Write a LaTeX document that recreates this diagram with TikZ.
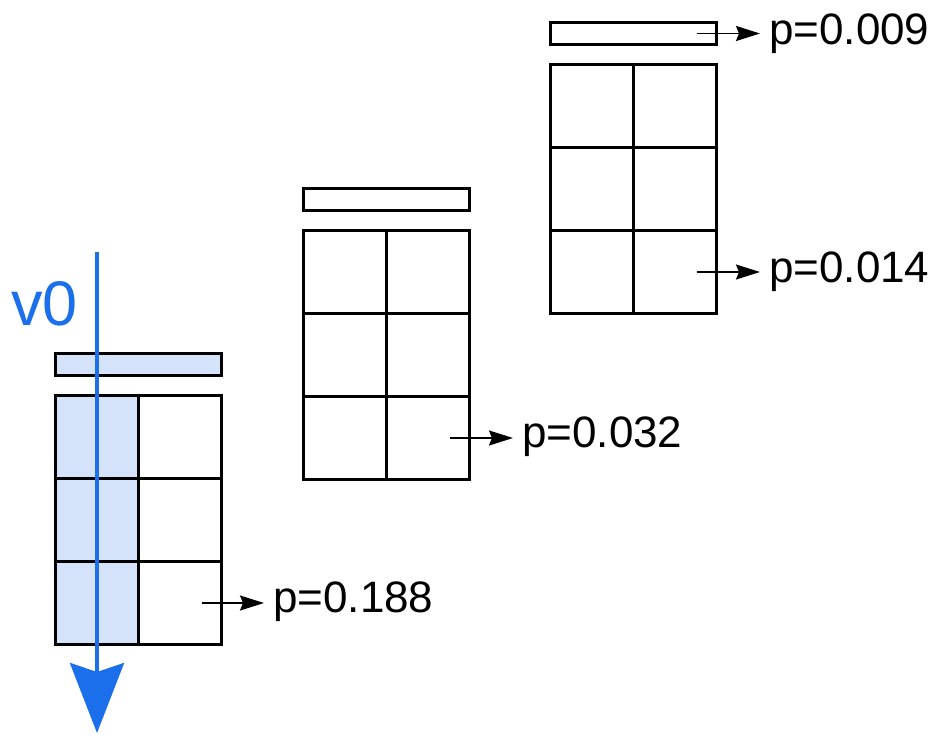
\documentclass[tikz,border=0pt]{standalone}
\usepackage{fontspec}
\setmainfont{Liberation Sans}
\usetikzlibrary{arrows.meta}
\definecolor{vblue}{HTML}{1B6FEA}
\definecolor{vfill}{HTML}{D5E3FA}
\tikzset{
  frame/.style={draw=black, line width=3.8pt, inner sep=0pt, outer sep=0pt},
  barbox/.style={frame, minimum width=166pt, minimum height=22pt},
  cellbox/.style={frame, minimum width=83pt, minimum height=83pt},
  plabel/.style={font=\fontsize{44}{44}\selectfont, inner sep=0pt, anchor=base west},
  pointer/.style={line width=1.8pt, -{Stealth[length=24pt,width=15pt,inset=3pt]}, shorten >=9pt},
  vline/.style={draw=vblue, line width=3.5pt, -{Stealth[length=70pt,width=54pt,inset=9pt]}},
}
% #1 name prefix, #2 left x, #3 top y, #4 fill of bar and first column
\newcommand{\cellgroup}[4]{%
  \node[barbox, fill=#4] (#1bar) at (#2+83,#3+11) {};
  \foreach \r in {1,2,3}{
    \node[cellbox, fill=#4] (#1c\r a) at (#2+41.5, #3+42+83*\r-41.5) {};
    \node[cellbox] (#1c\r b) at (#2+124.5, #3+42+83*\r-41.5) {};
  }
}
\begin{document}
\begin{tikzpicture}[x=1pt, y=-1pt]
  \useasboundingbox (0,0) rectangle (934,739);

  % three grids with their bars
  \cellgroup{L}{55.5}{353.5}{vfill}
  \cellgroup{M}{303.5}{188.5}{white}
  \cellgroup{R}{550.5}{22.5}{white}

  % probability labels
  \node[plabel] (pL) at (273,612) {p=0.188};
  \node[plabel] (pM) at (522,447) {p=0.032};
  \node[plabel] (pR) at (769,282) {p=0.014};
  \node[plabel] (pT) at (769,44) {p=0.009};

  \coordinate (sL) at ([xshift=-20pt]Lc3b.east);
  \coordinate (sM) at ([xshift=-20pt]Mc3b.east);
  \coordinate (sR) at ([xshift=-20pt]Rc3b.east);
  \coordinate (sT) at ([xshift=-20pt]Rbar.east);
  \draw[pointer] (sL) -- (sL -| pL.west);
  \draw[pointer] (sM) -- (sM -| pM.west);
  \draw[pointer] (sR) -- (sR -| pR.west);
  \draw[pointer] (sT) -- (sT -| pT.west);

  % v0 direction arrow
  \node[text=vblue, font=\fontsize{63}{63}\selectfont, inner sep=0pt, anchor=base west] (v0) at (11,325) {v0};
  \coordinate (vtop) at (97,252);
  \coordinate (vend) at (97,733);
  \draw[vline] (vtop) -- (vend);
\end{tikzpicture}
\end{document}
